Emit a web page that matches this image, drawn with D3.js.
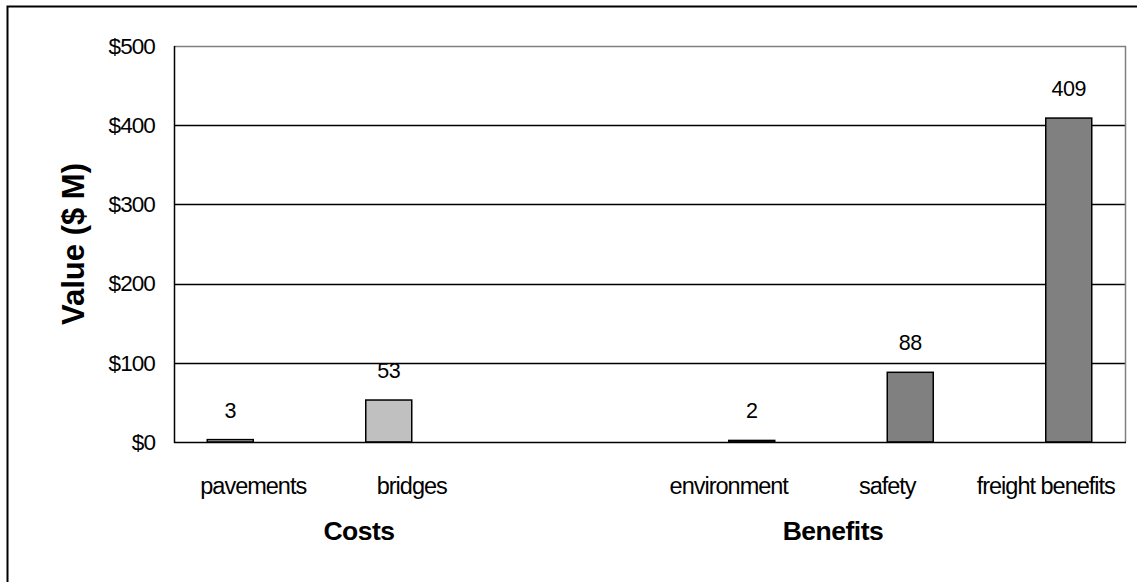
<!DOCTYPE html>
<html>
<head>
<meta charset="utf-8">
<script src="https://cdn.jsdelivr.net/npm/d3@7"></script>
<style>
  html, body { margin: 0; padding: 0; background: #fff; }
  svg { display: block; font-family: "Liberation Sans", Arial, sans-serif; }
</style>
</head>
<body>
<svg id="chart" width="1137" height="582"></svg>
<script>
// Categories along the x axis (the empty slot separates the two groups)
const categories = ["pavements", "bridges", "", "environment", "safety", "freight benefits"];
// Two series: costs and benefits, one value per category (null = no bar)
const seriesNames = ["Costs", "Benefits"];
const costValues = [3, 53, null, null, null, null];
const benefitValues = [null, null, null, 2, 88, 409];
// Y axis ticks
const yTicks = [0, 100, 200, 300, 400, 500];
const yTickLabels = ["$0", "$100", "$200", "$300", "$400", "$500"];
const groupLabels = ["Costs", "Benefits"];

const svg = d3.select("#chart");
const plot = { left: 174, right: 1125, top: 46, bottom: 442 };

// Outer chart border (runs past the right and bottom edges)
svg.append("rect")
  .attr("x", 7.5).attr("y", 6.5)
  .attr("width", 1140).attr("height", 590)
  .attr("fill", "#fff").attr("stroke", "#000").attr("stroke-width", 2);

const y = d3.scaleLinear().domain([0, 500]).range([plot.bottom, plot.top]);
const x0 = d3.scaleBand().domain(categories).range([plot.left, plot.right]).padding(0);
const barW = 46;
const x1 = d3.scaleBand().domain(seriesNames)
  .range([x0.bandwidth() / 2 - barW, x0.bandwidth() / 2 + barW]).padding(0);

const colors = { Costs: "#c0c0c0", Benefits: "#808080" };

// Gridlines
svg.append("g").selectAll("line")
  .data(yTicks.filter(t => t > 0 && t < 500))
  .join("line")
  .attr("x1", plot.left).attr("x2", plot.right)
  .attr("y1", d => Math.round(y(d)) + 0.5).attr("y2", d => Math.round(y(d)) + 0.5)
  .attr("stroke", "#000").attr("stroke-width", 1.3);

// Plot frame: top and right edges in gray
svg.append("path")
  .attr("d", `M${plot.left},${plot.top + 0.5}H${plot.right + 0.5}V${plot.bottom}`)
  .attr("fill", "none").attr("stroke", "#808080").attr("stroke-width", 1.5);

// Bars
const rows = [];
categories.forEach((c, i) => {
  if (costValues[i] != null) rows.push({ cat: c, series: "Costs", value: costValues[i] });
  if (benefitValues[i] != null) rows.push({ cat: c, series: "Benefits", value: benefitValues[i] });
});

svg.append("g").selectAll("rect")
  .data(rows)
  .join("rect")
  .attr("x", d => x0(d.cat) + x1(d.series))
  .attr("y", d => y(d.value))
  .attr("width", x1.bandwidth())
  .attr("height", d => y(0) - y(d.value))
  .attr("fill", d => colors[d.series])
  .attr("stroke", "#000").attr("stroke-width", 1.5);

// Value labels
svg.append("g").selectAll("text")
  .data(rows)
  .join("text")
  .attr("x", d => x0(d.cat) + x1(d.series) + x1.bandwidth() / 2)
  .attr("y", d => y(d.value) - 22)
  .attr("text-anchor", "middle")
  .attr("font-size", 21.5)
  .attr("letter-spacing", "-0.5")
  .attr("fill", "#000")
  .text(d => d.value);

// Y axis
const yAxis = d3.axisLeft(y).tickValues(yTicks)
  .tickFormat((d, i) => yTickLabels[i]).tickSize(0).tickPadding(19);
const gy = svg.append("g").attr("transform", `translate(${plot.left},0)`).call(yAxis);
gy.select(".domain").remove();
gy.selectAll("text").attr("font-size", 22.5).attr("font-family", "Liberation Sans, Arial, sans-serif")
  .attr("fill", "#000").attr("letter-spacing", "-0.9");

// Axis lines: left and baseline
svg.append("line").attr("x1", plot.left + 0.5).attr("x2", plot.left + 0.5)
  .attr("y1", plot.top).attr("y2", plot.bottom + 1)
  .attr("stroke", "#000").attr("stroke-width", 1.5);
svg.append("line").attr("x1", plot.left).attr("x2", plot.right + 1)
  .attr("y1", plot.bottom + 0.5).attr("y2", plot.bottom + 0.5)
  .attr("stroke", "#000").attr("stroke-width", 1.5);

// Category labels
svg.append("g").selectAll("text")
  .data(categories.filter(c => c !== ""))
  .join("text")
  .attr("x", d => x0(d) + x0.bandwidth() / 2)
  .attr("y", 494)
  .attr("text-anchor", "middle")
  .attr("font-size", 23.5)
  .attr("letter-spacing", "-1")
  .attr("fill", "#000")
  .text(d => d);

// Group labels
const groupX = [359, 833];
svg.append("g").selectAll("text")
  .data(groupLabels)
  .join("text")
  .attr("x", (d, i) => groupX[i])
  .attr("y", 540)
  .attr("text-anchor", "middle")
  .attr("font-size", 26.5)
  .attr("font-weight", "bold")
  .attr("letter-spacing", "-0.5")
  .attr("fill", "#000")
  .text(d => d);

// Y axis title
svg.append("text")
  .attr("transform", "translate(84,244) rotate(-90)")
  .attr("text-anchor", "middle")
  .attr("font-size", 31)
  .attr("font-weight", "bold")
  .attr("fill", "#000")
  .text("Value ($ M)");
</script>
</body>
</html>
